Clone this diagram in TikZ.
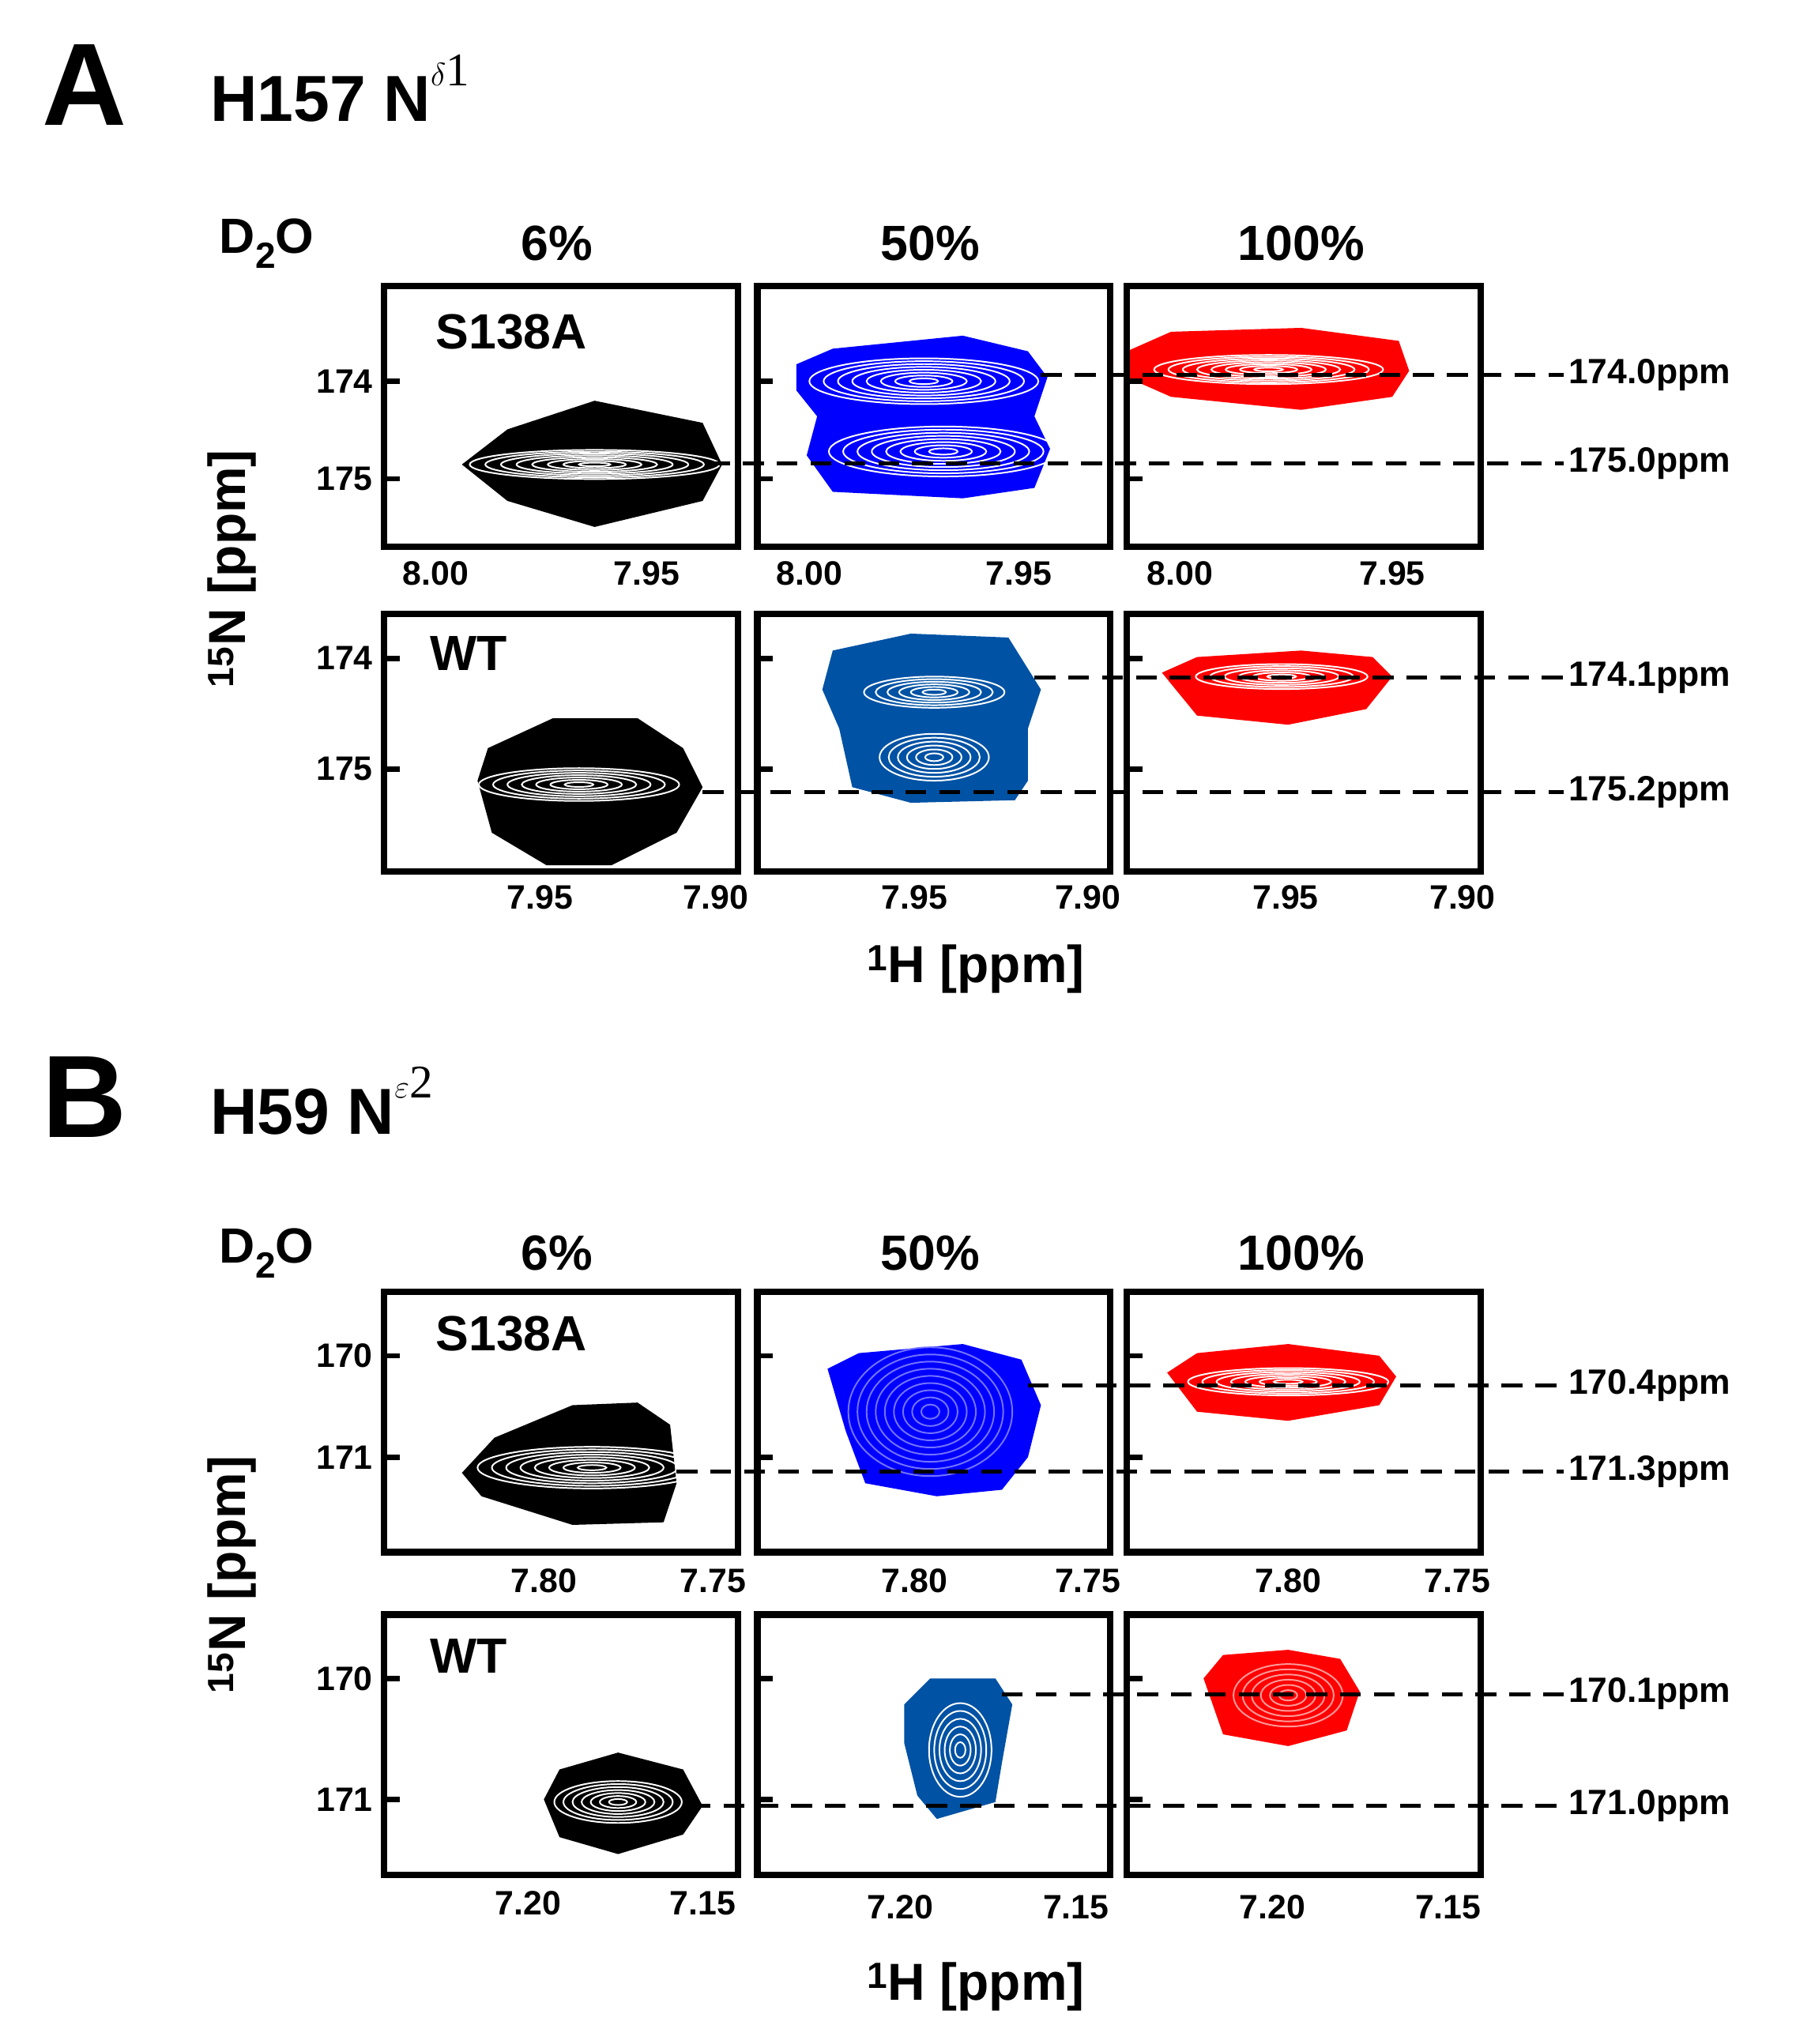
\documentclass[tikz,border=0pt]{standalone}
\usepackage{fontspec}
\setmainfont{Liberation Sans}
\newfontfamily\serifrm{Liberation Serif}
\begin{document}
\begin{tikzpicture}[x=1pt,y=-1pt,
 frame/.style={line width=5pt,black},
 big/.style={font=\fontsize{90}{90}\selectfont\bfseries},
 ttl/.style={font=\fontsize{50}{50}\selectfont\bfseries,anchor=west},
 hd/.style={font=\fontsize{38}{38}\selectfont\bfseries},
 tk/.style={font=\fontsize{26}{26}\selectfont\bfseries},
 pp/.style={font=\fontsize{27}{27}\selectfont\bfseries,anchor=west},
 ax/.style={font=\fontsize{40}{40}\selectfont\bfseries},
 dl/.style={line width=3pt,dash pattern=on 16pt off 10pt},
 inner/.style={white,line width=1.2pt}]
\useasboundingbox (0,0) rectangle (1380,1571);
\definecolor{bl}{RGB}{0,0,255}\definecolor{sb}{RGB}{0,82,164}\definecolor{rd}{RGB}{255,0,0}
% titles
\node[big] (A) at (65,65) {A};
\node[ttl] (tA) at (158,68) {H157 N\raisebox{0.55em}{\fontsize{36}{36}\selectfont\mdseries$\delta$\serifrm 1}};
\node[big] (B) at (65,843) {B};
\node[ttl] (tB) at (158,846) {H59 N\raisebox{0.55em}{\fontsize{36}{36}\selectfont\mdseries$\varepsilon$\serifrm 2}};
\foreach \y/\n in {187/a,963/b}{
 \node[hd] (d\n) at (205,\y) {D\raisebox{-0.3em}{\fontsize{28}{28}\selectfont 2}O};
 \node[hd] (p6\n) at (428,\y) {6\%};
 \node[hd] (p50\n) at (715,\y) {50\%};
 \node[hd] (p100\n) at (1000,\y) {100\%};}
% blobs
\fill[black] (355,357)--(390,330)--(457,308)--(540,325)--(555,357)--(540,385)--(457,405)--(390,385)--cycle;
\foreach \s in {1,...,8} \draw[inner] (457,357) ellipse ({\s*12pt} and {\s*1.4pt});
\fill[bl] (612,280)--(640,268)--(740,258)--(790,270)--(805,290)--(795,320)--(807,345)--(795,375)--(740,383)--(640,378)--(620,350)--(628,320)--(612,300)--cycle;
\foreach \s in {1,...,8}{\draw[inner] (710,293) ellipse ({\s*11pt} and {\s*2.2pt});\draw[inner] (725,347) ellipse ({\s*11pt} and {\s*2.4pt});}
\fill[rd] (866,270)--(900,255)--(1000,252)--(1075,262)--(1083,285)--(1070,305)--(1000,315)--(900,305)--(866,290)--cycle;
\foreach \s in {1,...,8} \draw[inner] (975,284) ellipse ({\s*11pt} and {\s*1.4pt});
\fill[black] (367,600)--(375,575)--(425,552)--(490,552)--(525,575)--(540,605)--(520,640)--(470,665)--(420,665)--(378,640)--cycle;
\foreach \s in {1,...,7} \draw[inner] (445,603) ellipse ({\s*11pt} and {\s*1.8pt});
\fill[sb] (632,530)--(640,500)--(700,487)--(775,490)--(800,530)--(790,560)--(790,600)--(780,615)--(700,617)--(655,605)--(645,560)--cycle;
\foreach \s in {1,...,6}{\draw[inner] (718,532) ellipse ({\s*9pt} and {\s*2pt});\draw[inner] (718,582) ellipse ({\s*7pt} and {\s*3pt});}
\fill[rd] (893,517)--(920,505)--(1000,500)--(1055,505)--(1070,520)--(1050,545)--(990,557)--(920,550)--cycle;
\foreach \s in {1,...,6} \draw[inner] (985,520) ellipse ({\s*11pt} and {\s*1.6pt});
\fill[black] (355,1132)--(380,1105)--(440,1080)--(490,1078)--(515,1095)--(520,1140)--(510,1170)--(440,1172)--(370,1150)--cycle;
\foreach \s in {1,...,8} \draw[inner] (455,1128) ellipse ({\s*11pt} and {\s*2pt});
\fill[bl] (636,1052)--(660,1040)--(740,1033)--(785,1045)--(800,1080)--(790,1120)--(770,1145)--(720,1150)--(665,1140)--(650,1100)--cycle;
\foreach \s in {1,...,9} \draw[bl!55!white,line width=1.2pt] (715,1085) ellipse ({\s*7pt} and {\s*5.5pt});
\fill[rd] (897,1055)--(920,1040)--(990,1033)--(1060,1042)--(1073,1058)--(1060,1080)--(990,1092)--(920,1085)--cycle;
\foreach \s in {1,...,7} \draw[inner] (990,1062) ellipse ({\s*11pt} and {\s*1.5pt});
\fill[black] (418,1383)--(430,1360)--(475,1347)--(525,1360)--(540,1388)--(525,1410)--(475,1425)--(430,1412)--cycle;
\foreach \s in {1,...,7} \draw[inner] (475,1385) ellipse ({\s*7pt} and {\s*2.3pt});
\fill[sb] (695,1310)--(715,1290)--(765,1290)--(778,1310)--(770,1355)--(765,1385)--(720,1398)--(705,1380)--(695,1340)--cycle;
\foreach \s in {1,...,6} \draw[inner] (738,1345) ellipse ({\s*4pt} and {\s*6pt});
\fill[rd] (925,1290)--(940,1272)--(990,1268)--(1030,1275)--(1045,1300)--(1035,1330)--(990,1342)--(940,1333)--cycle;
\foreach \s in {1,...,6} \draw[rd!40!white,line width=1.2pt] (990,1303) ellipse ({\s*7pt} and {\s*4pt});
% frames and ticks
\foreach \t/\b in {220/420,472/670,993/1193,1241/1441}{
 \foreach \l/\r in {295/567,582/853,866/1138}{
  \draw[frame] (\l,\t) rectangle (\r,\b);}}
\foreach \y in {293,368,506,591,1042,1120,1290,1383}{\foreach \x in {295,582,866} \draw[line width=4pt] (\x,\y)--++(12,0);}
% tick labels
\foreach \y/\t in {293/174,368/175,506/174,591/175,1042/170,1120/171,1290/170,1383/171} \node[tk,anchor=east] (yl\y) at (290,\y) {\t};
\foreach \x/\y/\t in {335/441/8.00,497/441/7.95,622/441/8.00,783/441/7.95,907/441/8.00,1070/441/7.95,
 415/690/7.95,550/690/7.90,703/690/7.95,836/690/7.90,988/690/7.95,1124/690/7.90,
 418/1215/7.80,548/1215/7.75,703/1215/7.80,836/1215/7.75,990/1215/7.80,1120/1215/7.75,
 406/1463/7.20,540/1463/7.15,692/1466/7.20,827/1466/7.15,978/1466/7.20,1113/1466/7.15}
 \node[tk] at (\x,\y) {\t};
% axis labels
\node[ax,rotate=90] (ya) at (178,437) {$^{\mathbf{15}}$N [ppm]};
\node[ax,rotate=90] (yb) at (178,1210) {$^{\mathbf{15}}$N [ppm]};
\node[ax] (xa) at (750,745) {$^{\mathbf{1}}$H [ppm]};
\node[ax] (xb) at (750,1527) {$^{\mathbf{1}}$H [ppm]};
% panel names
\node[hd] at (393,255) {S138A};\node[hd] at (360,502) {WT};
\node[hd] at (393,1025) {S138A};\node[hd] at (360,1273) {WT};
% dashed lines
\foreach \x/\y/\t in {800/288/174.0,545/356/175.0,795/521/174.1,540/609/175.2,790/1065/170.4,520/1131/171.3,770/1302/170.1,530/1388/171.0}{
 \coordinate (s\y) at (\x,\y); \node[pp] (l\y) at (1202,\y) {\t ppm};
 \draw[dl] (s\y)--(l\y.west);}
\end{tikzpicture}
\end{document}
